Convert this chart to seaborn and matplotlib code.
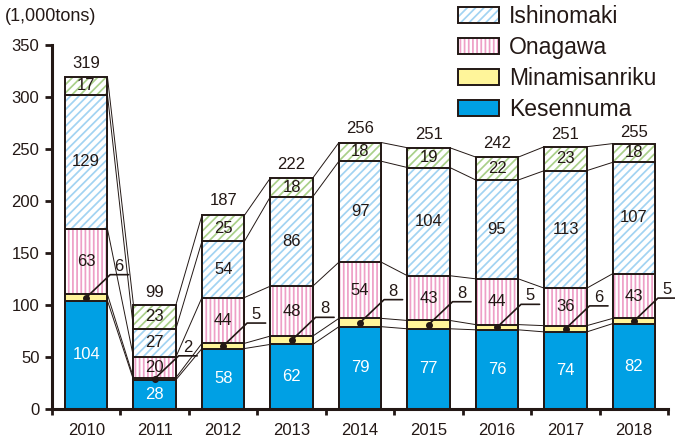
import matplotlib
matplotlib.use("Agg")
import matplotlib.pyplot as plt
import seaborn as sns
import numpy as np
from matplotlib.patches import Patch

# data (1,000 tons)
years = ["2010", "2011", "2012", "2013", "2014", "2015", "2016", "2017", "2018"]
kesennuma = [104, 28, 58, 62, 79, 77, 76, 74, 82]
minamisanriku = [6, 2, 5, 8, 8, 8, 5, 6, 5]
onagawa = [63, 20, 44, 48, 54, 43, 44, 36, 43]
ishinomaki = [129, 27, 54, 86, 97, 104, 95, 113, 107]
other = [17, 23, 25, 18, 18, 19, 22, 23, 18]
totals = [319, 99, 187, 222, 256, 251, 242, 251, 255]

sns.set_style("white")
plt.rcParams["font.family"] = ["Liberation Sans", "DejaVu Sans"]
plt.rcParams["hatch.linewidth"] = 1.25

BLUE = "#00A0E4"
YELLOW = "#FFF59A"
PINK = "#EE9FC7"
LBLUE = "#A2D3F2"
GREEN = "#A9D08A"
INK = "#231815"
W = 0.62
LW = 1.4

fig = plt.figure(figsize=(6.75, 4.43), dpi=100)
ax = fig.add_axes([0.077, 0.077, 0.913, 0.822])

layers = [
    ("Kesennuma", kesennuma, BLUE, None),
    ("Minamisanriku", minamisanriku, YELLOW, None),
    ("Onagawa", onagawa, PINK, "||||"),
    ("Ishinomaki", ishinomaki, LBLUE, "////"),
    ("Other", other, GREEN, "////"),
]
cums = np.cumsum([np.array(l[1]) for l in layers], axis=0)

# draw from top layer down, each opaque so it covers the one above
for k in range(len(layers) - 1, -1, -1):
    name, vals, col, hatch = layers[k]
    if hatch:
        sns.barplot(x=years, y=cums[k], color="white", width=W, saturation=1,
                    edgecolor=col, linewidth=0, hatch=hatch, errorbar=None, ax=ax)
        sns.barplot(x=years, y=cums[k], fill=False, width=W, edgecolor=INK,
                    linewidth=LW, errorbar=None, ax=ax)
    else:
        sns.barplot(x=years, y=cums[k], color=col, width=W, saturation=1,
                    edgecolor=INK, linewidth=LW, errorbar=None, ax=ax)

# connecting lines between bars
for k in range(len(layers)):
    for i in range(len(years) - 1):
        ax.plot([i + W / 2, i + 1 - W / 2], [cums[k][i], cums[k][i + 1]],
                color=INK, lw=0.7, zorder=1)

fs = 12
for i in range(len(years)):
    base = 0
    for k, (name, vals, col, hatch) in enumerate(layers):
        v = vals[i]
        mid = base + v / 2
        if name == "Minamisanriku":
            ax.plot([i], [mid], marker="o", ms=4, color=INK, zorder=5,
                    clip_on=False)
            ax.plot([i, i + 0.35, i + 0.62], [mid, mid + 22, mid + 22],
                    color=INK, lw=1.2, zorder=5, clip_on=False)
            ax.text(i + 0.48, mid + 23, str(v), ha="center", va="bottom",
                    fontsize=fs, color=INK, zorder=6)
        else:
            ax.text(i, mid, str(v), ha="center", va="center", fontsize=fs,
                    color="white" if name == "Kesennuma" else INK, zorder=6)
        base += v
    # last total sits a little lower, under the legend
    off = 3 if i == len(years) - 1 else 6
    ax.text(i, totals[i] + off, str(totals[i]), ha="center", va="bottom",
            fontsize=fs, color=INK)

ax.set_ylim(0, 350)
ax.set_xlim(-0.5, 8.5)
ax.set_yticks(range(0, 351, 50))
ax.set_xlabel("")
ax.set_ylabel("")
for s in ["top", "right"]:
    ax.spines[s].set_visible(False)
for s in ["left", "bottom"]:
    ax.spines[s].set_linewidth(2.2)
    ax.spines[s].set_color(INK)
ax.tick_params(axis="y", direction="out", length=5, width=2, labelsize=12,
               left=True, pad=4, colors=INK)
ax.tick_params(axis="x", which="major", length=0, labelsize=12, pad=10,
               colors=INK)
ax.set_xticks(np.arange(-0.5, 8.6, 1), minor=True)
ax.tick_params(axis="x", which="minor", direction="out", length=4, width=2,
               bottom=True, color=INK)

fig.text(0.007, 0.962, "(1,000tons)", fontsize=13, va="center", ha="left",
         color=INK)

handles = []
labels = []
for name, vals, col, hatch in [layers[3], layers[2], layers[1], layers[0]]:
    if hatch:
        h = (Patch(facecolor="white", edgecolor=col, hatch=hatch, linewidth=0),
             Patch(fill=False, edgecolor=INK, linewidth=LW))
    else:
        h = Patch(facecolor=col, edgecolor=INK, linewidth=LW)
    handles.append(h)
    labels.append(name)
fig.legend(handles, labels, loc="upper left",
           bbox_to_anchor=(447 / 675, 1 + 6 / 443), frameon=False,
           fontsize=16.5, handlelength=1.75, handleheight=0.7,
           handletextpad=0.45, labelspacing=0.34, borderpad=0,
           labelcolor=INK)

fig.savefig("out.png", dpi=100)
